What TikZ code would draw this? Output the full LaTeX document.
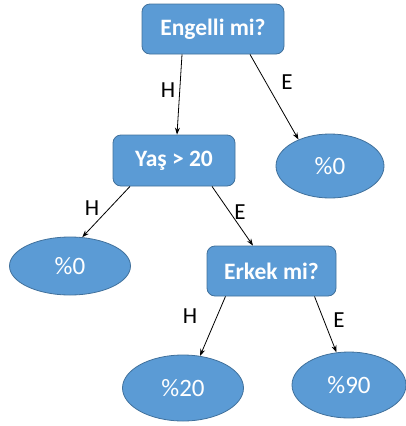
\documentclass[tikz,border=0pt]{standalone}
\usepackage{fontspec}
\setmainfont{Carlito}
\usetikzlibrary{arrows.meta,shapes.geometric}
\definecolor{boxfill}{HTML}{5B9BD5}
\definecolor{boxline}{HTML}{41719C}
\tikzset{
  qbox/.style={draw=boxline, fill=boxfill, rounded corners=8pt, line width=0.8pt,
    text=white, font=\fontsize{23.5}{25}\selectfont\bfseries, minimum width=#1, minimum height=50pt, inner sep=0pt},
  leaf/.style={draw=boxline, fill=boxfill, ellipse, line width=0.8pt, text=white,
    font=\fontsize{25}{27}\selectfont, inner sep=0pt},
  conn/.style={-{Stealth[length=7pt,width=5pt]}, line width=0.8pt},
  lbl/.style={font=\fontsize{23}{25}\selectfont, text=black}
}
\begin{document}
\begin{tikzpicture}[x=1pt,y=-1pt]
\useasboundingbox (0,0) rectangle (406,426);
\node[qbox=142pt] (root) at (213,29) {Engelli mi?};
\node[qbox=122pt, minimum height=51pt] (age) at (174,160.5) {Yaş > 20};
\node[qbox=129pt] (male) at (271.5,271) {Erkek mi?};
\node[leaf, minimum width=108pt, minimum height=64pt] (r0) at (330,166) {\raisebox{-3pt}{\%0}\hspace{12pt}};
\node[leaf, minimum width=121pt, minimum height=58pt] (l0) at (70,266) {\raisebox{-4pt}{\%0}\hspace{28pt}};
\node[leaf, minimum width=121pt, minimum height=66pt] (p20) at (183,388) {\raisebox{-2pt}{\%20}\hspace{16pt}};
\node[leaf, minimum width=114pt, minimum height=66pt] (p90) at (349,385) {\raisebox{1pt}{\%90}\hspace{8pt}};
\draw[conn] ([xshift=-31pt]root.south) -- ([xshift=3pt]age.north);
\draw[conn] ([xshift=37pt]root.south) -- (r0.140);
\draw[conn] ([xshift=-44pt]age.south) -- (l0.67);
\draw[conn] ([xshift=38pt]age.south) -- ([xshift=-18.5pt]male.north);
\draw[conn] ([xshift=-46pt]male.south) -- (p20.62);
\draw[conn] ([xshift=43pt]male.south) -- (p90.111);
\node[lbl] (h1) at (168,90) {H};
\node[lbl] (e1) at (287,82) {E};
\node[lbl] (h2) at (92,208) {H};
\node[lbl] (e2) at (240,212) {E};
\node[lbl] (h3) at (190,316) {H};
\node[lbl] (e3) at (339,320) {E};
\end{tikzpicture}
\end{document}
